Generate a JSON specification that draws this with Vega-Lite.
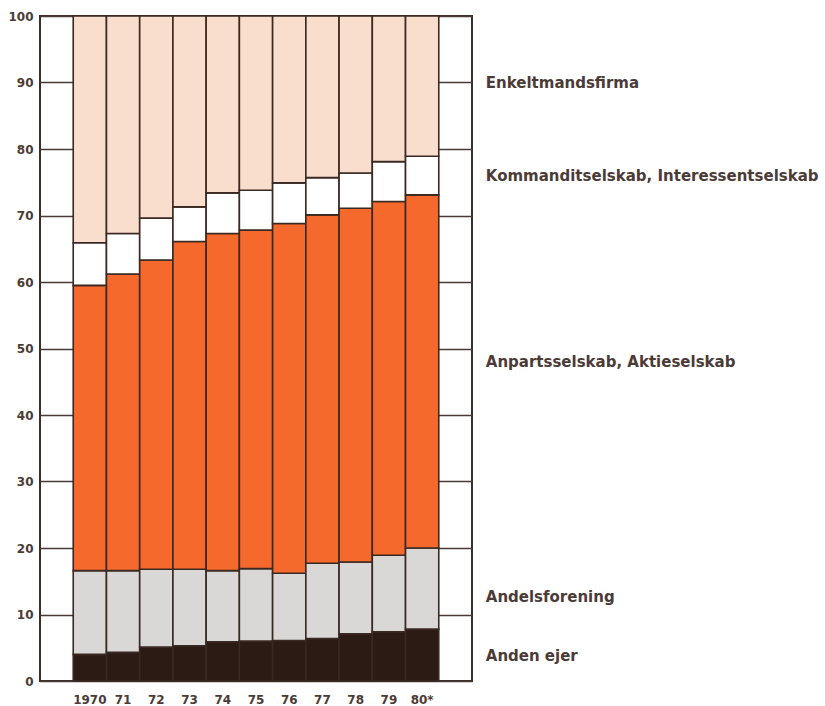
{
  "$schema": "https://vega.github.io/schema/vega-lite/v6.json",
  "autosize": {"type": "none"},
  "width": 432,
  "height": 665,
  "padding": {"left": 40, "top": 16, "right": 353, "bottom": 25},
  "background": "#ffffff",
  "config": {
    "view": {"stroke": "#3e2c27", "strokeWidth": 2},
    "font": "DejaVu Sans"
  },
  "datasets": {
    "shares": [
      {"year": "1970", "cat": "Anden ejer", "k": 1, "v": 4.0},
      {"year": "1970", "cat": "Andelsforening", "k": 2, "v": 12.6},
      {"year": "1970", "cat": "Anpartsselskab, Aktieselskab", "k": 3, "v": 42.9},
      {"year": "1970", "cat": "Kommanditselskab, Interessentselskab", "k": 4, "v": 6.4},
      {"year": "1970", "cat": "Enkeltmandsfirma", "k": 5, "v": 34.1},
      {"year": "71", "cat": "Anden ejer", "k": 1, "v": 4.3},
      {"year": "71", "cat": "Andelsforening", "k": 2, "v": 12.3},
      {"year": "71", "cat": "Anpartsselskab, Aktieselskab", "k": 3, "v": 44.6},
      {"year": "71", "cat": "Kommanditselskab, Interessentselskab", "k": 4, "v": 6.1},
      {"year": "71", "cat": "Enkeltmandsfirma", "k": 5, "v": 32.7},
      {"year": "72", "cat": "Anden ejer", "k": 1, "v": 5.1},
      {"year": "72", "cat": "Andelsforening", "k": 2, "v": 11.7},
      {"year": "72", "cat": "Anpartsselskab, Aktieselskab", "k": 3, "v": 46.5},
      {"year": "72", "cat": "Kommanditselskab, Interessentselskab", "k": 4, "v": 6.3},
      {"year": "72", "cat": "Enkeltmandsfirma", "k": 5, "v": 30.4},
      {"year": "73", "cat": "Anden ejer", "k": 1, "v": 5.3},
      {"year": "73", "cat": "Andelsforening", "k": 2, "v": 11.5},
      {"year": "73", "cat": "Anpartsselskab, Aktieselskab", "k": 3, "v": 49.3},
      {"year": "73", "cat": "Kommanditselskab, Interessentselskab", "k": 4, "v": 5.2},
      {"year": "73", "cat": "Enkeltmandsfirma", "k": 5, "v": 28.7},
      {"year": "74", "cat": "Anden ejer", "k": 1, "v": 5.9},
      {"year": "74", "cat": "Andelsforening", "k": 2, "v": 10.7},
      {"year": "74", "cat": "Anpartsselskab, Aktieselskab", "k": 3, "v": 50.7},
      {"year": "74", "cat": "Kommanditselskab, Interessentselskab", "k": 4, "v": 6.1},
      {"year": "74", "cat": "Enkeltmandsfirma", "k": 5, "v": 26.6},
      {"year": "75", "cat": "Anden ejer", "k": 1, "v": 6.0},
      {"year": "75", "cat": "Andelsforening", "k": 2, "v": 10.9},
      {"year": "75", "cat": "Anpartsselskab, Aktieselskab", "k": 3, "v": 50.9},
      {"year": "75", "cat": "Kommanditselskab, Interessentselskab", "k": 4, "v": 6.0},
      {"year": "75", "cat": "Enkeltmandsfirma", "k": 5, "v": 26.2},
      {"year": "76", "cat": "Anden ejer", "k": 1, "v": 6.1},
      {"year": "76", "cat": "Andelsforening", "k": 2, "v": 10.1},
      {"year": "76", "cat": "Anpartsselskab, Aktieselskab", "k": 3, "v": 52.6},
      {"year": "76", "cat": "Kommanditselskab, Interessentselskab", "k": 4, "v": 6.1},
      {"year": "76", "cat": "Enkeltmandsfirma", "k": 5, "v": 25.1},
      {"year": "77", "cat": "Anden ejer", "k": 1, "v": 6.4},
      {"year": "77", "cat": "Andelsforening", "k": 2, "v": 11.3},
      {"year": "77", "cat": "Anpartsselskab, Aktieselskab", "k": 3, "v": 52.4},
      {"year": "77", "cat": "Kommanditselskab, Interessentselskab", "k": 4, "v": 5.6},
      {"year": "77", "cat": "Enkeltmandsfirma", "k": 5, "v": 24.3},
      {"year": "78", "cat": "Anden ejer", "k": 1, "v": 7.1},
      {"year": "78", "cat": "Andelsforening", "k": 2, "v": 10.8},
      {"year": "78", "cat": "Anpartsselskab, Aktieselskab", "k": 3, "v": 53.2},
      {"year": "78", "cat": "Kommanditselskab, Interessentselskab", "k": 4, "v": 5.3},
      {"year": "78", "cat": "Enkeltmandsfirma", "k": 5, "v": 23.6},
      {"year": "79", "cat": "Anden ejer", "k": 1, "v": 7.4},
      {"year": "79", "cat": "Andelsforening", "k": 2, "v": 11.5},
      {"year": "79", "cat": "Anpartsselskab, Aktieselskab", "k": 3, "v": 53.2},
      {"year": "79", "cat": "Kommanditselskab, Interessentselskab", "k": 4, "v": 6.0},
      {"year": "79", "cat": "Enkeltmandsfirma", "k": 5, "v": 21.9},
      {"year": "80*", "cat": "Anden ejer", "k": 1, "v": 7.8},
      {"year": "80*", "cat": "Andelsforening", "k": 2, "v": 12.2},
      {"year": "80*", "cat": "Anpartsselskab, Aktieselskab", "k": 3, "v": 53.1},
      {"year": "80*", "cat": "Kommanditselskab, Interessentselskab", "k": 4, "v": 5.8},
      {"year": "80*", "cat": "Enkeltmandsfirma", "k": 5, "v": 21.1}
    ],
    "labels": [
      {"year": "80*", "label": "Enkeltmandsfirma", "pos": 90},
      {"year": "80*", "label": "Kommanditselskab, Interessentselskab", "pos": 76},
      {"year": "80*", "label": "Anpartsselskab, Aktieselskab", "pos": 48},
      {"year": "80*", "label": "Andelsforening", "pos": 12.7},
      {"year": "80*", "label": "Anden ejer", "pos": 3.7}
    ]
  },
  "layer": [
    {
      "data": {"name": "shares"},
      "mark": {"type": "bar", "stroke": "#3a2822", "strokeWidth": 1.6},
      "encoding": {
        "x": {
          "field": "year", "type": "ordinal", "sort": null,
          "scale": {"paddingInner": 0, "paddingOuter": 1},
          "axis": {"title": null, "labelAngle": 0, "ticks": false, "domain": false,
                   "labelFont": "DejaVu Sans", "labelFontSize": 12, "labelFontWeight": "bold", "labelColor": "#4b3b36",
                   "labelPadding": 13, "labelBaseline": "top"}
        },
        "y": {
          "field": "v", "type": "quantitative", "stack": "zero",
          "scale": {"domain": [0, 100], "nice": false},
          "axis": {"title": null, "values": [0,10,20,30,40,50,60,70,80,90,100],
                   "ticks": false, "domain": false, "labelPadding": 7,
                   "labelFont": "DejaVu Sans", "labelFontSize": 12, "labelFontWeight": "bold", "labelColor": "#4b3b36",
                   "gridColor": "#4a3a35", "gridWidth": 1.5, "gridOpacity": 1}
        },
        "color": {
          "field": "cat", "type": "nominal", "legend": null,
          "scale": {
            "domain": ["Anden ejer", "Andelsforening", "Anpartsselskab, Aktieselskab", "Kommanditselskab, Interessentselskab", "Enkeltmandsfirma"],
            "range": ["#2c1a15", "#dad8d6", "#f56a2c", "#ffffff", "#f9ddcd"]
          }
        },
        "order": {"field": "k", "type": "quantitative"}
      }
    },
    {
      "data": {"name": "labels"},
      "mark": {"type": "text", "align": "left", "baseline": "middle", "dx": 47,
               "font": "DejaVu Sans", "fontWeight": "bold", "fontSize": 15, "color": "#4b3b36"},
      "encoding": {
        "x": {"field": "year", "type": "ordinal", "bandPosition": 1},
        "y": {"field": "pos", "type": "quantitative"},
        "text": {"field": "label"}
      }
    }
  ]
}
